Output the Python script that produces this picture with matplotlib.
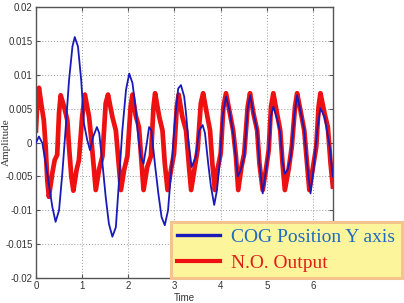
import matplotlib
matplotlib.use("Agg")
import matplotlib.pyplot as plt
from matplotlib.lines import Line2D

plt.rcParams['axes.unicode_minus'] = False

# N.O. Output (red)
red_t = [0.0, 0.03, 0.065, 0.12, 0.17, 0.21, 0.245, 0.28, 0.355, 0.405, 0.46, 0.50, 0.535,
         0.61, 0.68, 0.716, 0.766, 0.81, 0.88, 0.93, 1.00, 1.06,
         1.15, 1.20, 1.295, 1.366, 1.44, 1.51, 1.56,
         1.655, 1.73, 1.76, 1.84, 1.91, 1.98, 2.05, 2.09,
         2.16, 2.23, 2.33, 2.41, 2.49, 2.545, 2.58,
         2.67, 2.74, 2.79, 2.85, 2.935, 2.99, 3.05, 3.09,
         3.17, 3.25, 3.32, 3.36, 3.43, 3.50, 3.57, 3.62,
         3.70, 3.77, 3.82, 3.875, 3.93, 4.00, 4.06, 4.115,
         4.20, 4.27, 4.33, 4.38, 4.45, 4.51, 4.585, 4.635,
         4.71, 4.79, 4.84, 4.91, 4.98, 5.04, 5.09, 5.14,
         5.22, 5.29, 5.34, 5.39, 5.47, 5.54, 5.61, 5.655,
         5.74, 5.81, 5.87, 5.92, 5.99, 6.07, 6.12, 6.16,
         6.25, 6.32, 6.38, 6.43]
red_v = [0.0018, 0.0060, 0.0081, 0.0055, 0.0033, -0.0006, -0.0055, -0.0080, -0.0045, -0.0026, -0.0018, 0.0044, 0.0070,
         0.0053, 0.0033, -0.0006, -0.0050, -0.0071, -0.0040, -0.0026, 0.0038, 0.0071,
         0.0038, 0.0004, -0.0070, -0.0040, -0.0020, 0.0058, 0.0071,
         0.0038, 0.0018, -0.0006, -0.0070, -0.0040, -0.0020, 0.0053, 0.0071,
         0.0040, 0.0023, -0.0070, -0.0036, -0.0020, 0.0053, 0.0073,
         0.0038, 0.0018, -0.0031, -0.0070, -0.0036, -0.0016, 0.0053, 0.0071,
         0.0038, 0.0018, -0.0040, -0.0070, -0.0040, -0.0011, 0.0058, 0.0073,
         0.0043, 0.0018, -0.0031, -0.0070, -0.0040, -0.0016, 0.0053, 0.0073,
         0.0043, 0.0018, -0.0020, -0.0070, -0.0036, -0.0016, 0.0053, 0.0073,
         0.0043, 0.0018, -0.0031, -0.0070, -0.0040, -0.0011, 0.0053, 0.0073,
         0.0043, 0.0018, -0.0031, -0.0070, -0.0040, -0.0006, 0.0053, 0.0073,
         0.0043, 0.0018, -0.0031, -0.0070, -0.0040, -0.0006, 0.0053, 0.0073,
         0.0043, 0.0023, -0.0031, -0.0065]

# COG Position Y axis (blue)
blue_t = [0.0, 0.065, 0.14, 0.245, 0.355, 0.425, 0.50, 0.57, 0.64, 0.716, 0.79, 0.84, 0.91, 0.98,
          1.04, 1.11, 1.17, 1.24, 1.32, 1.37, 1.44, 1.51, 1.58, 1.655, 1.73, 1.80, 1.87, 1.95,
          2.02, 2.09, 2.16, 2.20, 2.27, 2.33, 2.40, 2.45, 2.50, 2.575, 2.65, 2.72, 2.79, 2.86,
          2.93, 3.01, 3.08, 3.14, 3.21, 3.25, 3.30, 3.37, 3.46, 3.535, 3.61, 3.66, 3.73, 3.79,
          3.86, 3.92, 3.99, 4.04, 4.115, 4.19, 4.28, 4.37, 4.44, 4.51, 4.585, 4.64, 4.71, 4.79,
          4.84, 4.91, 4.98, 5.04, 5.09, 5.14, 5.22, 5.29, 5.34, 5.39, 5.45, 5.52, 5.60, 5.655,
          5.74, 5.81, 5.87, 5.945, 6.01, 6.09, 6.16, 6.25, 6.36, 6.43]
blue_v = [0.0, 0.0009, -0.0001, -0.0046, -0.0095, -0.0117, -0.0100, -0.0046, 0.0018, 0.0092, 0.0142, 0.0156, 0.0142, 0.0092,
          0.0028, 0.0004, -0.0011, 0.0009, 0.0023, 0.0014, -0.0031, -0.0080, -0.0120, -0.0139, -0.0125, -0.0055, 0.0018, 0.0078,
          0.0102, 0.0088, 0.0050, 0.0018, -0.0021, -0.0031, -0.0001, 0.0023, 0.0018, -0.0031, -0.0075, -0.0110, -0.0122, -0.0100,
          -0.0040, 0.0033, 0.0080, 0.0085, 0.0068, 0.0043, 0.0004, -0.0036, -0.0021, 0.0018, 0.0026, 0.0014, -0.0031, -0.0065,
          -0.0092, -0.0070, -0.0021, 0.0038, 0.0068, 0.0048, 0.0009, -0.0050, -0.0040, -0.0020, 0.0050, 0.0070, 0.0043, 0.0018,
          -0.0031, -0.0075, -0.0042, -0.0012, 0.0040, 0.0053, 0.0035, 0.0015, -0.0030, -0.0046, -0.0040, -0.0020, 0.0043, 0.0070,
          0.0043, 0.0018, -0.0031, -0.0075, -0.0040, 0.0018, 0.0051, 0.0038, -0.0006, -0.0050]

x_ticks = [0, 1, 2, 3, 4, 5, 6]
y_ticks = [-0.02, -0.015, -0.01, -0.005, 0, 0.005, 0.01, 0.015, 0.02]
y_labels = ['-0.02', '-0.015', '-0.01', '-0.005', '0', '0.005', '0.01', '0.015', '0.02']

tick_font = ['Liberation Sans Narrow', 'Liberation Sans', 'DejaVu Sans']

fig = plt.figure(figsize=(4.04, 3.03), dpi=100)
ax = fig.add_axes([0.089, 0.0825, 0.735, 0.8935])

ax.plot(red_t, red_v, color='#ee1111', lw=3.4, zorder=2, solid_joinstyle='round')
ax.plot(blue_t, blue_v, color='#1a1ab8', lw=1.3, zorder=3)

ax.set_xlim(0, 6.43)
ax.set_ylim(-0.02, 0.02)
ax.set_xticks(x_ticks)
ax.set_xticklabels([str(v) for v in x_ticks], family=tick_font, fontsize=7, color='#333333')
ax.set_yticks(y_ticks)
ax.set_yticklabels(y_labels, family=tick_font, fontsize=7, color='#333333')
ax.tick_params(direction='in', length=3, width=0.8, top=True, right=True, pad=2.5, color='#555555')
ax.grid(True, color='#999999', linestyle=(0, (1, 2)), linewidth=0.7)
for s in ax.spines.values():
    s.set_color('#555555')
    s.set_linewidth(1.0)

ax.set_xlabel('Time', family=tick_font, fontsize=7, color='#333333')
ax.xaxis.set_label_coords(0.5, -0.054)
ax.set_ylabel('Amplitude', family=['Liberation Serif', 'DejaVu Serif'], fontsize=8, color='#333333', va='center')
ax.yaxis.set_label_coords(-0.101, 0.5)

handles = [Line2D([], [], color='#1a1ab8', lw=2.4),
           Line2D([], [], color='#ee1111', lw=3.0)]
leg = fig.legend(handles, ['COG Position Y axis', 'N.O. Output'],
                 loc='lower left', bbox_to_anchor=(0.423, 0.0825, 0.572, 0.188),
                 mode='expand', borderaxespad=0, fancybox=False,
                 prop={'family': ['Liberation Serif', 'DejaVu Serif'], 'size': 14},
                 handlelength=2.2, handletextpad=0.6, borderpad=0.3, labelspacing=0.45)
frame = leg.get_frame()
frame.set_facecolor('#fdf59c')
frame.set_edgecolor('#f5c48c')
frame.set_linewidth(2.2)
frame.set_alpha(1)
leg.get_texts()[0].set_color('#1f6cc0')
leg.get_texts()[1].set_color('#e02018')

fig.savefig('out.png', dpi=100)
